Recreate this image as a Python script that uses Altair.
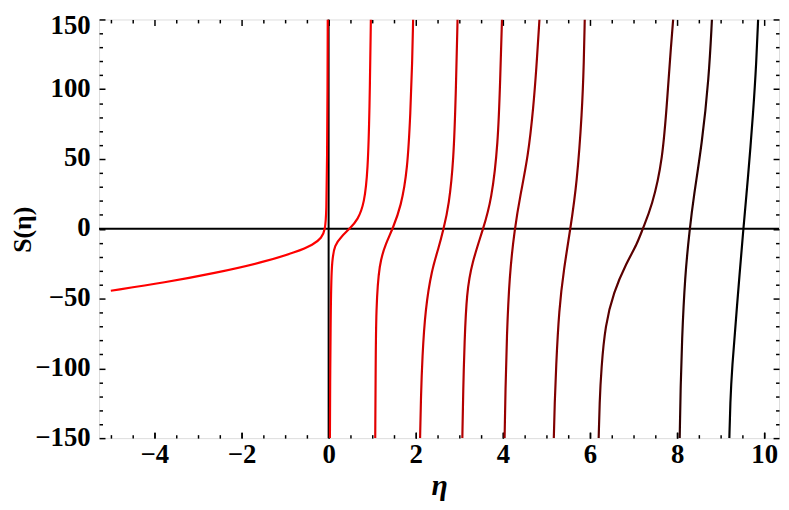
import altair as alt
import pandas as pd

# ---- data ----
branch_x = [
    [-5.0, -3.75, -2.62, -1.48, -0.73, -0.35, -0.16, -0.08, -0.05, -0.035, -0.025, -0.02],
    [0.03, 0.035, 0.045, 0.06, 0.14, 0.30, 0.48, 0.67, 0.82, 0.90, 0.94, 0.97],
    [1.07, 1.08, 1.09, 1.16, 1.32, 1.47, 1.66, 1.81, 1.88, 1.92, 1.94],
    [2.10, 2.12, 2.15, 2.22, 2.37, 2.52, 2.64, 2.76, 2.87, 2.92, 2.96],
    [3.07, 3.09, 3.12, 3.17, 3.29, 3.55, 3.74, 3.89, 3.94, 3.98],
    [4.04, 4.06, 4.09, 4.15, 4.27, 4.40, 4.58, 4.70, 4.77, 4.84],
    [5.17, 5.19, 5.22, 5.29, 5.40, 5.55, 5.70, 5.82, 5.86, 5.88],
    [6.20, 6.22, 6.26, 6.35, 6.54, 6.84, 7.08, 7.21, 7.42, 7.67, 7.78, 7.86, 7.91],
    [8.06, 8.08, 8.11, 8.18, 8.29, 8.38, 8.57, 8.73, 8.80],
    [9.20, 9.22, 9.26, 9.37, 9.52, 9.63, 9.75, 9.82, 9.86],
]
branch_y = [
    [-44.4, -38.4, -31.8, -23.8, -16.5, -11.3, -6.6, -0.7, 11, 50, 100, 150],
    [-150, -110, -75, -24.3, -11.3, -5.4, 0, 6.4, 18.2, 41.8, 84, 150],
    [-150, -100, -57, -24.3, -10.1, 0, 15.8, 41.8, 84, 120, 150],
    [-150, -120, -92.7, -57.3, -29, -14.5, 0, 16.5, 48.8, 96, 150],
    [-150, -115, -80.9, -45.5, -24.3, 0, 20.5, 60.6, 107.8, 150],
    [-150, -115, -78, -33.8, 0, 24, 52, 86.6, 115, 150],
    [-150, -125, -100, -57.3, -29, 0, 32.3, 84.2, 119.6, 150],
    [-150, -125, -100, -69.1, -45.5, -24.3, -11, 0, 15.8, 48.8, 96, 131, 150],
    [-150, -115, -80.9, -33.8, 0, 22.9, 60.6, 107.8, 150],
    [-150, -125, -100, -57.3, 0, 37, 84.2, 119.6, 150],
]
branch_colors = ["#ff0000", "#f20000", "#e20000", "#cc0000", "#b30000",
                 "#990000", "#800000", "#5a0000", "#2d0000", "#000000"]

x_major = [-4, -2, 0, 2, 4, 6, 8, 10]
x_minor = [v * 0.5 for v in range(-10, 21) if v % 4 != 0]
y_major = [-150, -100, -50, 0, 50, 100, 150]
y_minor = [v for v in range(-140, 150, 10) if v % 50 != 0]

rows = []
for i, (bx, by) in enumerate(zip(branch_x, branch_y)):
    for j, (xv, yv) in enumerate(zip(bx, by)):
        rows.append({"x": xv, "y": yv, "b": f"b{i}", "o": j})
df = pd.DataFrame(rows)
branch_names = [f"b{i}" for i in range(len(branch_x))]

xs = alt.Scale(domain=[-5.27, 10.34], nice=False, zero=False)
ys = alt.Scale(domain=[-150, 150], nice=False, zero=False)

FONT = "Liberation Serif"
LABEL = dict(labelFont=FONT, labelFontWeight="bold", labelFontSize=27,
             labelColor="black", labelFlush=False, labelOverlap=False)

label_x_axis = alt.Axis(
    orient="bottom", values=x_major, ticks=False, domain=False, grid=False,
    labelPadding=4, **LABEL,
    title="η", titleFont=FONT, titleFontStyle="italic", titleFontWeight="bold",
    titleFontSize=30, titleColor="black", titlePadding=3,
)
label_y_axis = alt.Axis(
    orient="left", values=y_major[:-1], ticks=False, domain=False, grid=False,
    labelPadding=9, labelOffset=-1, **LABEL,
    title="S(η)", titleFont=FONT, titleFontWeight="bold",
    titleFontSize=26, titleColor="black", titleX=-77, titleY=212,
    titleAngle=-90, titleBaseline="middle", titleAlign="center",
)
top_label_axis = alt.Axis(
    orient="left", values=y_major[-1:], ticks=False, domain=False, grid=False,
    labelPadding=9, labelOffset=6, title=None, **LABEL,
)


def tick_axis(orient, values, size):
    return alt.Axis(orient=orient, values=values, labels=False, domain=False,
                    grid=False, ticks=True, tickSize=size, tickWidth=1.5,
                    tickColor="black", offset=-size, title=None)


def tick_layer(xa, ya):
    return alt.Chart(df).mark_point(opacity=0, size=1).encode(
        x=alt.X("x:Q", scale=xs, axis=xa),
        y=alt.Y("y:Q", scale=ys, axis=ya),
    )


zero_v = alt.Chart(pd.DataFrame({"x": [0]})).mark_rule(
    color="black", strokeWidth=2).encode(x=alt.X("x:Q", scale=xs, axis=None))
zero_h = alt.Chart(pd.DataFrame({"y": [0]})).mark_rule(
    color="black", strokeWidth=2).encode(y=alt.Y("y:Q", scale=ys, axis=None))

curves = alt.Chart(df).mark_line(strokeWidth=2.2, clip=True, interpolate="basis").encode(
    x=alt.X("x:Q", scale=xs, axis=label_x_axis),
    y=alt.Y("y:Q", scale=ys, axis=label_y_axis),
    color=alt.Color("b:N", scale=alt.Scale(domain=branch_names, range=branch_colors),
                    legend=None),
    detail="b:N",
    order="o:Q",
)

layers = [
    zero_v,
    zero_h,
    curves,
    tick_layer(tick_axis("bottom", x_major, 6), tick_axis("left", y_major, 6)),
    tick_layer(tick_axis("bottom", x_minor, 3.5), tick_axis("left", y_minor, 3.5)),
    tick_layer(tick_axis("top", x_major, 6), tick_axis("right", y_major, 6)),
    tick_layer(tick_axis("top", x_minor, 3.5), tick_axis("right", y_minor, 3.5)),
    tick_layer(tick_axis("bottom", x_major, 6), top_label_axis),
]

chart = alt.layer(*layers).resolve_axis(
    x="independent", y="independent"
).properties(
    width=687, height=423, autosize="none",
    padding={"left": 92, "top": 9, "right": 2, "bottom": 66},
).configure_view(
    stroke="black", strokeWidth=1.5
).configure(background="white")

chart.save("out.html", embed_options={"renderer": "svg", "actions": False})
